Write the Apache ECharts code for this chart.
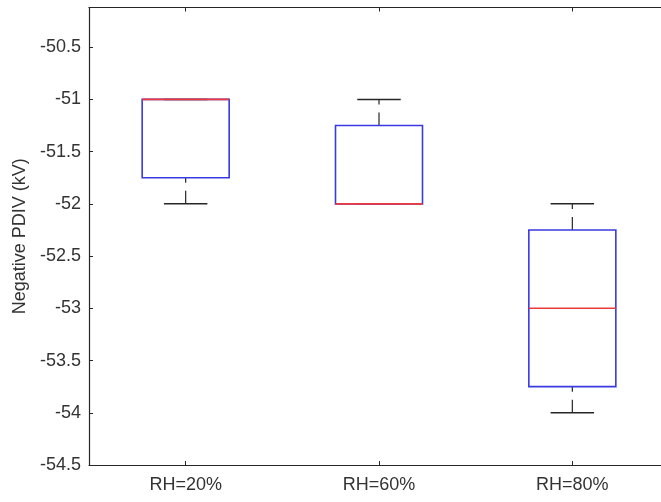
<!DOCTYPE html>
<html>
<head>
<meta charset="utf-8">
<script src="https://cdn.jsdelivr.net/npm/echarts@6/dist/echarts.min.js"></script>
<style>
  html, body { margin: 0; padding: 0; background: #fff; overflow: hidden; width: 661px; height: 502px; }
  #chart { width: 680px; height: 502px; }
</style>
</head>
<body>
<div id="chart"></div>
<script>
// Box-plot statistics per humidity level (kV)
const categories = ['RH=20%', 'RH=60%', 'RH=80%'];
const lowerWhisker = [-52, -52, -54];
const quartile1 = [-51.75, -52, -53.75];
const median = [-51, -52, -53];
const quartile3 = [-51, -51.25, -52.25];
const upperWhisker = [-51, -51, -52];

const yTicks = [-54.5, -54, -53.5, -53, -52.5, -52, -51.5, -51, -50.5];

const boxData = categories.map((c, i) => [i, lowerWhisker[i], quartile1[i], median[i], quartile3[i], upperWhisker[i]]);

const FONT = 'Liberation Sans, Arial, sans-serif';
const INK = '#262626';
const TEXT = '#333333';

function renderBox(params, api) {
  const x = api.value(0);
  const band = api.size([1, 0])[0];
  const halfBox = band * 0.45 / 2;
  const halfCap = band * 0.225 / 2;
  const pMin = api.coord([x, api.value(1)]);
  const pQ1 = api.coord([x, api.value(2)]);
  const pMed = api.coord([x, api.value(3)]);
  const pQ3 = api.coord([x, api.value(4)]);
  const pMax = api.coord([x, api.value(5)]);
  const cx = pMed[0];
  const whiskerStyle = { stroke: INK, lineWidth: 1.2, lineDash: [13, 8] };
  const children = [];
  // whiskers, each drawn upward (lower value to higher value)
  if (Math.abs(pMin[1] - pQ1[1]) > 0.5) {
    children.push({ type: 'line', shape: { x1: cx, y1: pMin[1], x2: cx, y2: pQ1[1] }, style: whiskerStyle });
  }
  if (Math.abs(pMax[1] - pQ3[1]) > 0.5) {
    children.push({ type: 'line', shape: { x1: cx, y1: pQ3[1], x2: cx, y2: pMax[1] }, style: whiskerStyle });
  }
  // whisker caps
  children.push({ type: 'line', shape: { x1: cx - halfCap, y1: pMin[1], x2: cx + halfCap, y2: pMin[1] }, style: { stroke: INK, lineWidth: 1.5 } });
  children.push({ type: 'line', shape: { x1: cx - halfCap, y1: pMax[1], x2: cx + halfCap, y2: pMax[1] }, style: { stroke: INK, lineWidth: 1.5 } });
  // interquartile box
  children.push({ type: 'rect', shape: { x: cx - halfBox, y: pQ3[1], width: halfBox * 2, height: pQ1[1] - pQ3[1] },
    style: { fill: 'none', stroke: '#3a3ae2', lineWidth: 1.6 } });
  // median
  children.push({ type: 'line', shape: { x1: cx - halfBox, y1: pMed[1], x2: cx + halfBox, y2: pMed[1] }, style: { stroke: '#ec3a3a', lineWidth: 1.6 } });
  return { type: 'group', children };
}

const chart = echarts.init(document.getElementById('chart'), null, { renderer: 'canvas' });
const yAxisBase = {
  type: 'value', min: -54.5, max: -50.12, interval: 0.5,
  axisLine: { show: true, lineStyle: { color: INK, width: 1.2 } },
  axisTick: { show: true, inside: true, length: 4, lineStyle: { color: INK } },
  splitLine: { show: false }
};
chart.setOption({
  animation: false,
  backgroundColor: '#fff',
  grid: { left: 89, right: 11, top: 7.5, bottom: 37, containLabel: false },
  xAxis: [
    {
      type: 'category', data: categories, position: 'bottom',
      axisLine: { show: true, onZero: false, lineStyle: { color: INK, width: 1.2 } },
      axisTick: { show: true, inside: true, alignWithLabel: true, length: 4, lineStyle: { color: INK } },
      axisLabel: { color: TEXT, fontFamily: FONT, fontSize: 18, margin: 11 }
    },
    {
      type: 'category', data: categories, position: 'top',
      axisLine: { show: true, onZero: false, lineStyle: { color: INK, width: 1.2 } },
      axisTick: { show: true, inside: true, alignWithLabel: true, length: 4, lineStyle: { color: INK } },
      axisLabel: { show: false }
    }
  ],
  yAxis: [
    Object.assign({}, yAxisBase, {
      position: 'left',
      name: 'Negative PDIV (kV)', nameLocation: 'middle', nameGap: 55,
      nameTextStyle: { color: TEXT, fontFamily: FONT, fontSize: 18 },
      axisLabel: { color: TEXT, fontFamily: FONT, fontSize: 18, margin: 8,
        showMaxLabel: false,
        formatter: v => yTicks.includes(Math.round(v * 100) / 100) ? String(v) : '' }
    }),
    Object.assign({}, yAxisBase, { position: 'right', axisLabel: { show: false } })
  ],
  series: [{
    type: 'custom',
    xAxisIndex: 0, yAxisIndex: 0,
    renderItem: renderBox,
    encode: { x: 0, y: [1, 2, 3, 4, 5] },
    data: boxData,
    clip: false
  }]
});
</script>
</body>
</html>
